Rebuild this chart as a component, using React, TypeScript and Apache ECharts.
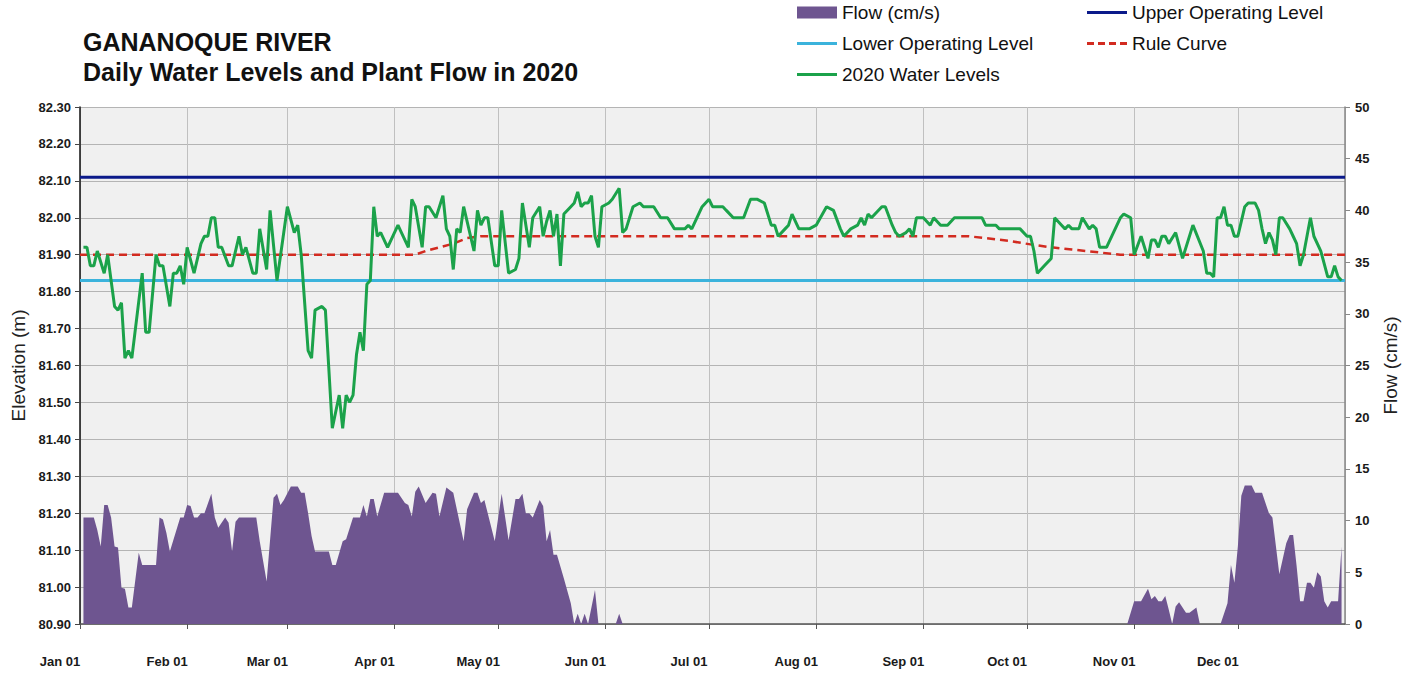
import React, { useEffect, useRef } from "react";
import * as echarts from "echarts";

const YEAR = 2020;
const monthLabels = ["Jan", "Feb", "Mar", "Apr", "May", "Jun", "Jul", "Aug", "Sep", "Oct", "Nov", "Dec"];

// Day of year (0 = Jan 01) and daily water level (m)
const levelDay = [
  1, 2, 3, 4, 5, 7, 8, 10, 11, 12, 13, 14, 15, 18, 19, 20, 22, 23, 24, 26, 27, 28, 29, 30, 31, 33, 35, 36, 37, 38, 39,
  40, 41, 43, 44, 46, 47, 48, 50, 51, 52, 54, 55, 57, 60, 62, 63, 64, 66, 67, 68, 70, 71, 73, 75, 76, 77, 78, 79, 80,
  81, 82, 83, 84, 85, 86, 87, 89, 92, 93, 95, 96, 97, 99, 100, 101, 103, 105, 106, 107, 108, 109, 110, 111, 114, 115,
  116, 117, 118, 120, 121, 122, 124, 126, 127, 128, 130, 131, 133, 134, 135, 136, 137, 138, 139, 140, 142, 143, 144,
  145, 146, 147, 148, 149, 150, 151, 153, 154, 156, 157, 158, 160, 162, 163, 166, 168, 170, 172, 175, 176, 177, 180,
  182, 183, 186, 187, 189, 192, 194, 196, 198, 200, 201, 202, 204, 205, 206, 208, 209, 211, 213, 216, 218, 220, 221,
  223, 225, 226, 227, 228, 229, 232, 233, 235, 236, 237, 239, 240, 241, 242, 244, 246, 247, 249, 251, 253, 261, 262,
  265, 266, 272, 274, 275, 276, 277, 278, 279, 281, 282, 284, 285, 286, 287, 289, 290, 292, 293, 294, 295, 297, 299,
  301, 302, 304, 305, 307, 309, 310, 311, 312, 313, 314, 315, 317, 319, 322, 325, 326, 327, 328, 329, 330, 331, 332,
  333, 334, 335, 337, 338, 340, 341, 342, 343, 344, 345, 346, 347, 348, 350, 351, 352, 353, 354, 356, 357, 359, 361,
  362, 363, 364, 365,
];
const levelValue = [
  81.92, 81.92, 81.87, 81.87, 81.91, 81.85, 81.9, 81.76, 81.75, 81.77, 81.62, 81.64, 81.62, 81.85, 81.69, 81.69, 81.9,
  81.87, 81.87, 81.76, 81.85, 81.85, 81.87, 81.82, 81.92, 81.85, 81.93, 81.95, 81.95, 82.0, 82.0,
  81.92, 81.92, 81.87, 81.87, 81.95, 81.9, 81.92, 81.85, 81.85, 81.97, 81.86, 82.02, 81.83, 82.03, 81.96, 81.98, 81.9,
  81.64, 81.62, 81.75, 81.76, 81.75, 81.43, 81.52, 81.43, 81.52, 81.5, 81.52, 81.63,
  81.69, 81.64, 81.82, 81.83, 82.03, 81.95, 81.96, 81.92, 81.98, 81.96, 81.92, 82.05, 82.03, 81.92, 82.03, 82.03, 82.0,
  82.06, 81.97, 81.95, 81.86, 81.97, 81.96, 82.03, 81.91, 82.02,
  81.98, 82.0, 82.0, 81.87, 81.87, 82.02, 81.85, 81.86, 81.89, 82.04, 81.92, 82.0, 82.03, 81.95, 81.99, 82.02, 81.95,
  82.01, 81.87, 82.01, 82.03, 82.04, 82.07,
  82.03, 82.04, 82.04, 82.06, 81.95, 81.92, 82.03, 82.04, 82.05, 82.08, 81.96, 81.97, 82.03, 82.04, 82.03, 82.03, 82.0,
  82.0, 81.97, 81.97, 81.98, 81.97, 82.03,
  82.05, 82.03, 82.03, 82.02, 82.0, 82.0, 82.05, 82.05, 82.04, 81.98, 81.98, 81.95, 81.97, 81.98, 82.01, 81.97, 81.97,
  81.97, 81.98, 82.03, 82.02, 81.97, 81.95,
  81.97, 81.98, 82.0, 81.98, 82.01, 82.0, 82.03, 82.03, 81.98, 81.96, 81.95, 81.96, 81.97, 81.95, 82.0, 82.0, 81.98,
  82.0, 81.98, 81.98, 82.0, 82.0, 81.98,
  81.98, 81.97, 81.97, 81.95, 81.95, 81.91, 81.85, 81.86, 81.87, 81.89, 82.0, 81.98, 81.97, 81.98, 81.97, 81.97, 82.0,
  81.97, 81.98, 81.97, 81.92, 81.92, 81.96,
  82.0, 82.01, 82.0, 81.9, 81.95, 81.89, 81.94, 81.94, 81.92, 81.95, 81.95, 81.93, 81.96, 81.89, 81.98, 81.91, 81.85,
  81.85, 81.84, 82.0, 82.0, 82.03, 81.98,
  81.98, 81.95, 81.95, 82.03, 82.04, 82.04, 82.02, 81.97, 81.93, 81.96, 81.94, 81.9, 82.0, 82.0, 81.97, 81.95, 81.93,
  81.87, 81.9, 82.0, 81.95, 81.91, 81.84,
  81.84, 81.87, 81.84, 81.83,
];

// Day of year and plant flow (cm/s)
const flowDay = [
  1, 4, 5, 6, 7, 8, 9, 10, 11, 12, 13, 14, 15, 17, 18, 22, 23, 24, 25, 26, 29, 30, 31, 32, 33, 34, 35, 36, 38, 39, 40,
  42, 43, 44, 45, 46, 51, 52, 54, 56, 57, 58, 59, 61, 63, 64, 65, 66, 67, 68, 72, 73, 74, 76, 77, 79, 81, 82, 83, 84,
  85, 86, 88, 92, 94, 95, 96, 97, 98, 100, 102, 103, 104, 106, 108, 111, 112, 114, 115, 116, 117, 120, 122, 124, 126,
  127, 128, 129, 130, 131, 133, 134, 135, 136, 137, 138, 140, 142, 143, 144, 145, 146, 147, 149, 150, 155, 156, 157,
  303, 305, 307, 309, 310, 311, 312, 313, 314, 315, 316, 317, 318, 320, 321, 323, 324, 330, 332, 333, 334, 335, 336,
  337, 339, 340, 342, 344, 345, 347, 349, 350, 351, 352, 353, 354, 355, 356, 357, 358, 359, 360, 361, 362, 364, 365,
];
const flowValue = [
  10.3, 10.3, 9.1, 7.5, 11.5, 11.5, 10.3, 7.5, 7.4, 3.5, 3.4, 1.6, 1.6, 6.9, 5.7, 5.7, 10.3, 10.1, 8.8, 7.0, 10.3, 10.3,
  11.5, 11.4, 10.3, 10.3, 10.7, 10.7, 12.6, 10.3, 9.3,
  10.3, 9.8, 7.0, 9.9, 10.3, 10.3, 8.0, 4.1, 12.2, 12.6, 11.5, 12.0, 13.3, 13.3, 12.7, 12.7, 10.7, 8.5, 7.0, 7.0, 5.7,
  5.7, 8.0, 8.2, 10.3, 10.3, 11.5, 10.4, 12.1,
  12.1, 10.4, 12.7, 12.7, 11.7, 11.5, 10.4, 12.8, 13.3, 11.7, 12.7, 12.6, 10.4, 13.2, 12.7, 8.0, 11.1, 12.7, 12.7, 11.7,
  12.0, 8.0, 12.6, 8.1, 12.1,
  12.1, 12.6, 10.7, 10.7, 10.3, 12.0, 11.4, 8.0, 9.1, 6.7, 6.7, 4.4, 2.0, 0, 1.0, 0, 1.0, 0, 3.3, 0, 0, 1.0, 0,
  0, 2.2, 2.2, 3.4, 2.4, 2.7, 2.2, 2.2, 2.7, 1.4, 0, 1.7, 2.1, 1.1, 1.1, 1.6, 0, 0, 2.0, 5.7, 4.0, 7.5, 12.4,
  13.4, 13.4, 12.7, 12.7, 10.7, 10.3, 4.8, 7.8, 8.6, 8.6, 5.6, 2.2, 2.2, 4.0, 4.0, 3.5, 5.0, 4.6, 2.2, 1.6, 2.2, 2.2, 7.5,
];

// Rule curve (m)
const ruleDay = [0, 97, 100, 104, 108, 112, 116, 257, 263, 269, 275, 281, 287, 295, 301, 366];
const ruleValue = [81.9, 81.9, 81.91, 81.92, 81.93, 81.945, 81.95, 81.95, 81.944, 81.937, 81.928, 81.92, 81.914, 81.906, 81.9, 81.9];

const upperOperatingLevel = 82.11;
const lowerOperatingLevel = 81.83;

const titleLines = ["GANANOQUE RIVER", "Daily Water Levels and Plant Flow in 2020"];

const dayToTime = (d: number) => new Date(YEAR, 0, 1 + d).getTime();
const pairs = (days: number[], vals: number[]) => days.map((d, i) => [dayToTime(d), vals[i]]);

const FONT = "Liberation Sans, Arial, sans-serif";
const SOLID_ICON = "path://M0,0H40V3H0Z";
const DASH_ICON = "path://M0,0H7V3H0Z M11,0H18V3H11Z M22,0H29V3H22Z M33,0H40V3H33Z";

export default function App() {
  const ref = useRef<HTMLDivElement>(null);
  useEffect(() => {
    if (!ref.current) return;
    const chart = echarts.init(ref.current, null, { renderer: "svg" });
    const xMin = dayToTime(0);
    const xMax = dayToTime(366);
    const legendText = { fontSize: 19, color: "#111", fontFamily: FONT };
    const legendBase = {
      top: 3,
      orient: "vertical",
      padding: 0,
      itemGap: 12,
      itemWidth: 40,
      itemHeight: 12,
      selectedMode: false,
      textStyle: legendText,
    };
    chart.setOption({
      animation: false,
      backgroundColor: "#ffffff",
      textStyle: { fontFamily: FONT },
      title: {
        text: titleLines.join("\n"),
        left: 83,
        top: 27,
        padding: 0,
        textStyle: { fontFamily: FONT, fontWeight: "bold", fontSize: 25, lineHeight: 30, color: "#111" },
      },
      legend: [
        {
          ...legendBase,
          left: 797,
          data: [
            { name: "Flow (cm/s)", icon: "rect" },
            { name: "Lower Operating Level", icon: SOLID_ICON },
            { name: "2020 Water Levels", icon: SOLID_ICON },
          ],
        },
        {
          ...legendBase,
          left: 1087,
          data: [
            { name: "Upper Operating Level", icon: SOLID_ICON },
            { name: "Rule Curve", icon: DASH_ICON },
          ],
        },
      ],
      grid: {
        left: 80,
        right: 68,
        top: 107,
        bottom: 63,
        show: true,
        backgroundColor: "#f0f0f0",
        borderWidth: 0,
      },
      xAxis: {
        type: "time",
        min: xMin,
        max: xMax,
        splitNumber: 12,
        axisLine: { show: true, lineStyle: { color: "#555", width: 1.5 } },
        axisTick: { show: true, length: 5, lineStyle: { color: "#555" } },
        splitLine: { show: true, lineStyle: { color: "#c0c0c0", width: 1 } },
        axisLabel: {
          formatter: (v: number) => {
            const d = new Date(v);
            return monthLabels[d.getMonth()] + " " + String(d.getDate()).padStart(2, "0");
          },
          fontWeight: "bold",
          fontSize: 13,
          color: "#1a1a1a",
          margin: 31,
          padding: [0, 40, 0, 0],
          showMaxLabel: false,
          showMinLabel: true,
          hideOverlap: false,
        },
      },
      yAxis: [
        {
          type: "value",
          min: 80.9,
          max: 82.3,
          interval: 0.1,
          position: "left",
          name: "Elevation (m)",
          nameLocation: "middle",
          nameGap: 50,
          nameRotate: 90,
          nameTextStyle: { fontSize: 19, color: "#222", fontFamily: FONT },
          axisLine: { show: true, lineStyle: { color: "#111", width: 1.5 } },
          axisTick: { show: true, length: 5, lineStyle: { color: "#444" } },
          axisLabel: {
            formatter: (v: number) => v.toFixed(2),
            fontWeight: "bold",
            fontSize: 13,
            color: "#1a1a1a",
            margin: 9,
          },
          splitLine: { show: true, lineStyle: { color: "#b4b4b4", width: 1 } },
        },
        {
          type: "value",
          min: 0,
          max: 50,
          interval: 5,
          position: "right",
          name: "Flow (cm/s)",
          nameLocation: "middle",
          nameGap: 36,
          nameRotate: 90,
          nameTextStyle: { fontSize: 19, color: "#222", fontFamily: FONT },
          axisLine: { show: true, lineStyle: { color: "#888", width: 1.5 } },
          axisTick: { show: true, length: 5, lineStyle: { color: "#888" } },
          axisLabel: { fontWeight: "bold", fontSize: 13, color: "#1a1a1a", margin: 10 },
          splitLine: { show: false },
        },
      ],
      series: [
        {
          name: "Flow (cm/s)",
          type: "line",
          yAxisIndex: 1,
          data: pairs(flowDay, flowValue),
          symbol: "none",
          lineStyle: { width: 0, color: "#6e5590" },
          itemStyle: { color: "#6e5590" },
          areaStyle: { color: "#6e5590", opacity: 1 },
          z: 1,
        },
        {
          name: "Upper Operating Level",
          type: "line",
          data: [
            [xMin, upperOperatingLevel],
            [xMax, upperOperatingLevel],
          ],
          symbol: "none",
          itemStyle: { color: "#0b1a8a" },
          lineStyle: { color: "#0b1a8a", width: 3 },
          z: 2,
        },
        {
          name: "Lower Operating Level",
          type: "line",
          data: [
            [xMin, lowerOperatingLevel],
            [xMax, lowerOperatingLevel],
          ],
          symbol: "none",
          itemStyle: { color: "#3bb3dc" },
          lineStyle: { color: "#3bb3dc", width: 3 },
          z: 2,
        },
        {
          name: "Rule Curve",
          type: "line",
          data: pairs(ruleDay, ruleValue),
          symbol: "none",
          itemStyle: { color: "#d22b20" },
          lineStyle: { color: "#d22b20", width: 2.5, type: [8, 5] },
          z: 3,
        },
        {
          name: "2020 Water Levels",
          type: "line",
          data: pairs(levelDay, levelValue),
          symbol: "none",
          itemStyle: { color: "#1ba24a" },
          lineStyle: { color: "#1ba24a", width: 3 },
          z: 4,
        },
      ],
    });
    return () => chart.dispose();
  }, []);
  return (
    <div
      ref={ref}
      style={{ position: "fixed", left: 0, top: 0, width: 1413, height: 687, background: "#fff" }}
    />
  );
}
